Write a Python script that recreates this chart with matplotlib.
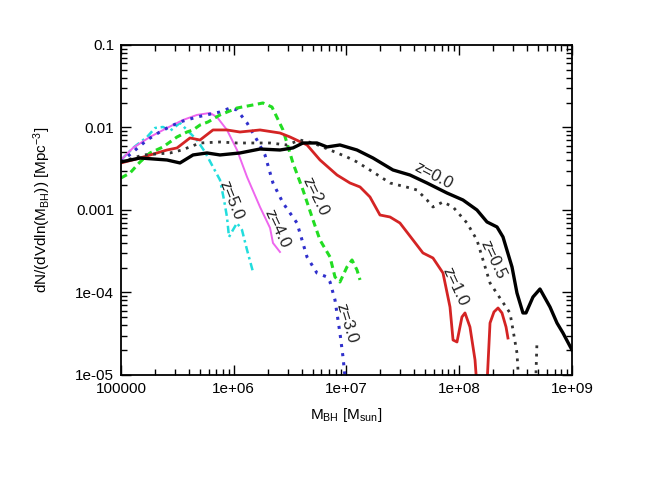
import numpy as np
import matplotlib
matplotlib.use("Agg")
import matplotlib.pyplot as plt
from matplotlib.ticker import FixedLocator, FixedFormatter, LogLocator, NullFormatter

plt.rcParams['font.family'] = ['Liberation Sans', 'DejaVu Sans']

# curves, as log10(M_BH) and log10(dN/dVdlnM)
logm_z00 = [5.000, 5.169, 5.408, 5.523, 5.639, 5.763, 5.878, 6.055, 6.233, 6.410, 6.525, 6.614,
            6.738, 6.827, 6.942, 7.093, 7.235, 7.412, 7.563, 7.714, 7.891, 8.033, 8.157, 8.246,
            8.335, 8.388, 8.468, 8.512, 8.565, 8.592, 8.654, 8.716, 8.805, 8.867, 8.920, 9.000]
logn_z00 = [-2.418, -2.370, -2.394, -2.430, -2.333, -2.309, -2.333, -2.309, -2.261, -2.273, -2.248, -2.188,
            -2.188, -2.236, -2.212, -2.273, -2.370, -2.515, -2.576, -2.673, -2.794, -2.879, -3.000, -3.145,
            -3.206, -3.327, -3.691, -4.006, -4.248, -4.248, -4.055, -3.958, -4.176, -4.370, -4.491, -4.697]

logm_z05 = [5.000, 5.195, 5.435, 5.541, 5.701, 5.878, 6.029, 6.171, 6.322, 6.472, 6.588, 6.703,
            6.854, 7.004, 7.093, 7.235, 7.386, 7.563, 7.625, 7.714, 7.767, 7.856, 7.945, 8.069,
            8.157, 8.273, 8.361, 8.450, 8.477, 8.512, 8.521, 8.530, np.nan, 8.681, 8.681, 8.690]
logn_z05 = [-2.418, -2.333, -2.309, -2.273, -2.188, -2.176, -2.188, -2.188, -2.188, -2.212, -2.152, -2.188,
            -2.273, -2.358, -2.418, -2.539, -2.673, -2.733, -2.758, -2.879, -2.964, -2.903, -2.964, -3.158,
            -3.364, -3.885, -4.067, -4.248, -4.455, -4.733, -4.939, -5.180, np.nan, -5.180, -4.964, -4.576]

logm_z10 = [5.000, 5.169, 5.408, 5.497, 5.612, 5.701, 5.816, 5.940, 6.055, 6.233, 6.410, 6.499,
            6.650, 6.765, 6.916, 7.031, 7.120, 7.208, 7.297, 7.386, 7.474, 7.590, 7.678, 7.767,
            7.856, 7.918, 7.945, 7.980, 8.024, 8.051, 8.095, 8.140, 8.202, 8.246, 8.273, 8.308,
            8.344, 8.379, 8.415, 8.432]
logn_z10 = [-2.430, -2.370, -2.273, -2.248, -2.127, -2.152, -2.030, -2.030, -2.055, -2.030, -2.067, -2.115,
            -2.212, -2.394, -2.576, -2.673, -2.721, -2.842, -3.061, -3.085, -3.158, -3.364, -3.521, -3.582,
            -3.764, -4.176, -4.576, -4.600, -4.297, -4.248, -4.418, -4.818, -6.000, -5.120, -4.370, -4.236,
            -4.188, -4.248, -4.418, -4.552]

logm_z20 = [5.000, 5.080, 5.169, 5.257, 5.373, 5.497, 5.585, 5.639, 5.701, 5.772, 5.878, 6.029,
            6.171, 6.259, 6.339, 6.437, 6.525, 6.614, 6.703, 6.765, 6.854, 6.898, 6.942, 7.004,
            7.049, 7.093, 7.120]
logn_z20 = [-2.612, -2.552, -2.418, -2.309, -2.236, -2.115, -2.055, -2.030, -1.970, -1.933, -1.848, -1.764,
            -1.727, -1.703, -1.752, -2.030, -2.430, -2.758, -3.121, -3.364, -3.570, -3.812, -3.873, -3.691,
            -3.606, -3.727, -3.848]

logm_z30 = [5.000, 5.106, 5.231, 5.373, 5.523, 5.674, 5.878, 5.967, 6.029, 6.118, 6.206, 6.277,
            6.348, 6.437, 6.561, 6.650, 6.738, 6.827, 6.854, 6.898, 6.942, 6.969, 6.987]
logn_z30 = [-2.418, -2.297, -2.152, -2.030, -1.933, -1.873, -1.812, -1.764, -1.788, -1.945, -2.152, -2.333,
            -2.673, -2.915, -3.158, -3.570, -3.764, -3.812, -3.873, -4.091, -4.491, -4.782, -5.024]

logm_z40 = [5.000, 5.106, 5.257, 5.408, 5.550, 5.674, 5.789, 5.851, 5.940, 6.029, 6.118, 6.233,
            6.322, 6.348, 6.410]
logn_z40 = [-2.394, -2.248, -2.115, -2.006, -1.909, -1.848, -1.824, -1.873, -2.030, -2.273, -2.600, -2.964,
            -3.218, -3.400, -3.509]

logm_z50 = [5.000, 5.106, 5.231, 5.302, 5.373, 5.435, 5.523, 5.585, 5.674, 5.745, 5.816, 5.878,
            5.914, 5.940, 5.958, 5.993, 6.029, 6.073, 6.118, 6.171]
logn_z50 = [-2.394, -2.248, -2.115, -2.006, -1.994, -2.042, -1.945, -2.030, -2.152, -2.297, -2.479, -2.636,
            -2.879, -3.085, -3.327, -3.242, -3.158, -3.242, -3.485, -3.752]

# curve labels: text, log10 position, rotation
label_text = ["z=0.0", "z=0.5", "z=1.0", "z=2.0", "z=3.0", "z=4.0", "z=5.0"]
label_logm = [7.770, 8.302, 7.962, 6.721, 7.002, 6.381, 5.982]
label_logn = [-2.588, -3.606, -3.929, -2.838, -4.374, -3.222, -2.879]
label_rot = [-28, -65, -65, -64, -73, -65, -68]

xticks = [1e5, 1e6, 1e7, 1e8, 1e9]
xtick_labels = ["100000", "1e+06", "1e+07", "1e+08", "1e+09"]
yticks = [1e-5, 1e-4, 1e-3, 1e-2, 1e-1]
ytick_labels = ["1e-05", "1e-04", "0.001", "0.01", "0.1"]

fig = plt.figure(figsize=(6.54, 4.91), dpi=100)
ax = fig.add_axes([0.185, 0.2363, 0.6896, 0.6721])

curves = [
    (logm_z50, logn_z50, dict(color='#22dddd', lw=1.8, ls=(0, (3, 1.5, 1, 1.5)))),
    (logm_z40, logn_z40, dict(color='#ee66ee', lw=1.4, ls='-')),
    (logm_z30, logn_z30, dict(color='#3030cc', lw=2.2, ls=(0, (1, 2)))),
    (logm_z20, logn_z20, dict(color='#22dd22', lw=2.2, ls=(0, (2.2, 1.5)))),
    (logm_z10, logn_z10, dict(color='#d42424', lw=2.0, ls='-')),
    (logm_z05, logn_z05, dict(color='#333333', lw=2.0, ls=(0, (1, 2)))),
    (logm_z00, logn_z00, dict(color='black', lw=2.4, ls='-')),
]
for lm, ln, style in curves:
    ax.plot(10 ** np.array(lm), 10 ** np.array(ln), solid_joinstyle='round',
            dash_joinstyle='round', **style)

for t, lm, ln, r in zip(label_text, label_logm, label_logn, label_rot):
    ax.text(10 ** lm, 10 ** ln, t, rotation=r, rotation_mode='anchor',
            ha='center', va='center', fontsize=12, color='#222222')

ax.set_xscale('log')
ax.set_yscale('log')
ax.set_xlim(1e5, 1e9)
ax.set_ylim(1e-5, 0.1)

ax.xaxis.set_major_locator(FixedLocator(xticks))
ax.xaxis.set_major_formatter(FixedFormatter(xtick_labels))
ax.yaxis.set_major_locator(FixedLocator(yticks))
ax.yaxis.set_major_formatter(FixedFormatter(ytick_labels))
ax.xaxis.set_minor_locator(LogLocator(base=10, subs=np.arange(2, 10), numticks=20))
ax.yaxis.set_minor_locator(LogLocator(base=10, subs=np.arange(2, 10), numticks=20))
ax.xaxis.set_minor_formatter(NullFormatter())
ax.yaxis.set_minor_formatter(NullFormatter())
ax.tick_params(which='both', direction='in', top=True, right=True, labelsize=11, pad=5)
ax.tick_params(which='major', length=7, width=1)
ax.tick_params(which='minor', length=4, width=1)
for s in ax.spines.values():
    s.set_linewidth(1.3)

ax.set_xlabel(r"$\mathregular{M_{BH}}$ [$\mathregular{M_{sun}}$]", fontsize=11, labelpad=7)
ax.set_ylabel(r"dN/(dVdln($\mathregular{M_{BH}}$)) [$\mathregular{Mpc^{-3}}$]", fontsize=11, labelpad=16)

fig.savefig("out.png", dpi=100)
